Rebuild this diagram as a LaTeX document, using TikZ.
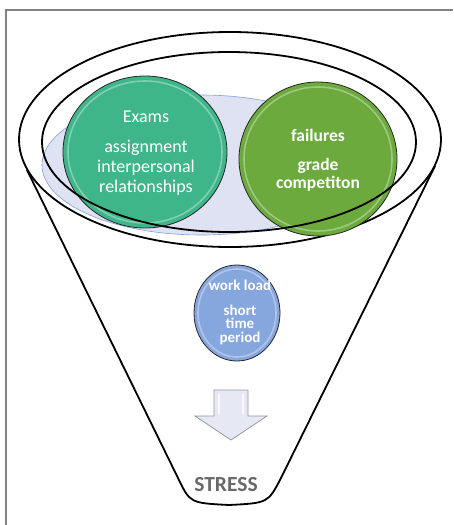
\documentclass[tikz,border=0pt]{standalone}
\usepackage{fontspec}
\setmainfont{Carlito}
\usetikzlibrary{shapes.geometric}
\definecolor{tealc}{RGB}{62,182,138}
\definecolor{greenc}{RGB}{108,170,62}
\definecolor{bluec}{RGB}{134,166,222}
\definecolor{lavc}{RGB}{222,226,242}
\definecolor{lavedge}{RGB}{130,160,215}
\definecolor{arrowc}{RGB}{230,232,244}
\definecolor{arrowedge}{RGB}{150,150,155}
\definecolor{framec}{RGB}{128,128,128}
\definecolor{stressc}{RGB}{105,105,105}
\begin{document}
\begin{tikzpicture}[x=1pt,y=-1pt,
  funnelline/.style={draw=black, line width=1.8pt},
  ring/.style={ellipse, draw=black, line width=1.8pt, inner sep=0pt},
  blob/.style={ellipse, draw=black!85, line width=0.8pt, inner sep=0pt},
  rim/.style={draw=white, opacity=0.35, line width=1.6pt},
  ttxt/.style={text=white, anchor=base, inner sep=0pt, font=\fontsize{18}{20}\selectfont},
  gtxt/.style={text=white, anchor=base, inner sep=0pt, font=\fontsize{17.5}{20}\selectfont\bfseries},
  btxt/.style={text=white, anchor=base, inner sep=0pt, font=\fontsize{15}{16}\selectfont\bfseries}]
\useasboundingbox (0,0) rectangle (453,525);
% frame
\draw[framec, line width=2pt] (6,525) -- (6,10) -- (453,10);
% funnel
\node[ring, minimum width=422pt, minimum height=215pt] (outer) at (230,139.5) {};
\draw[funnelline] (27,170) -- (178,478) .. controls (190,503) .. (229,505) .. controls (268,503) .. (281,478) -- (435,166);
% lavender ellipse
\node[ellipse, fill=lavc, draw=lavedge, line width=0.6pt, inner sep=0pt, minimum width=318pt, minimum height=140pt] (lav) at (201,165) {};
% teal circle
\node[blob, fill=tealc, minimum width=164pt, minimum height=152pt] (teal) at (145,152) {};
\draw[rim] (teal.center) ellipse [x radius=77pt, y radius=71pt];
% green circle
\node[blob, fill=greenc, minimum width=158pt, minimum height=154pt] (green) at (318,159) {};
\draw[rim] (green.center) ellipse [x radius=74pt, y radius=72pt];
% inner ring
\node[ring, minimum width=374pt, minimum height=180pt] (inner) at (229,142) {};
% teal text
\node[ttxt] (t1) at (146,122) {Exams};
\node[ttxt] (t2) at (146,152) {assignment};
\node[ttxt] (t3) at (146,172) {interpersonal};
\node[ttxt] (t4) at (146,192) {relationships};
% green text
\node[gtxt] (g1) at (318,141.5) {failures};
\node[gtxt] (g2) at (318,170) {grade};
\node[gtxt] (g3) at (318,188.5) {competiton};
% blue circle
\node[blob, fill=bluec, minimum width=86pt, minimum height=96pt] (blue) at (237,313) {};
\draw[rim] (blue.center) ellipse [x radius=39pt, y radius=44pt];
\node[btxt] (b1) at (240,290) {work load};
\node[btxt] (b2) at (240,315) {short};
\node[btxt] (b3) at (240,328.5) {time};
\node[btxt] (b4) at (240,342) {period};
% down arrow
\draw[fill=arrowc, draw=arrowedge, line width=0.8pt, line join=miter]
  (214,390) -- (248,390) -- (248,416) -- (267,416) -- (231,440) -- (195,416) -- (214,416) -- cycle;
\draw[white, line width=2pt, opacity=0.8] (219,394) -- (219,414);
\draw[white, line width=2pt, opacity=0.8] (243,394) -- (243,414);
% label
\node[anchor=base, inner sep=0pt, text=stressc, font=\fontsize{21.5}{24}\selectfont\bfseries] (stress) at (226,491) {STRESS};
\end{tikzpicture}
\end{document}
